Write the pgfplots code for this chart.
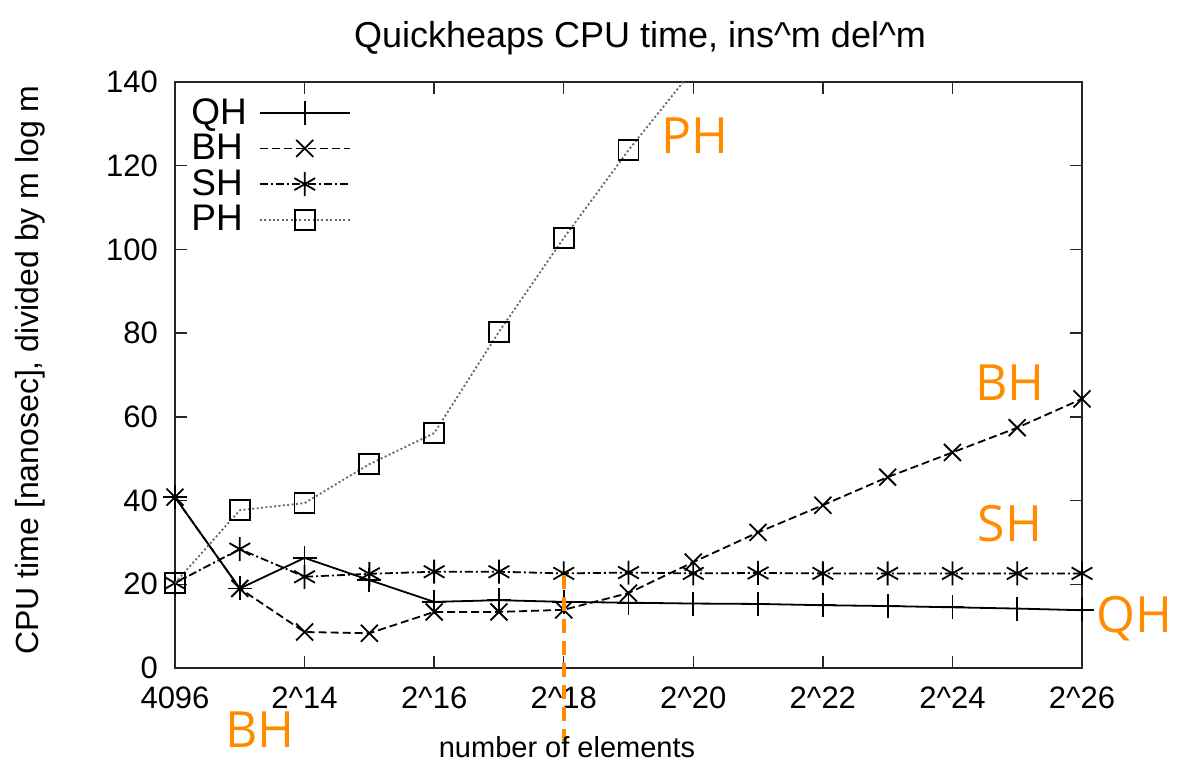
\documentclass[border=0pt]{standalone}
\usepackage{fontspec}
\setmainfont{Liberation Sans}
\newfontfamily\annfont{Open Sans}
\usepackage{pgfplots}
\usepackage{pgfplotstable}
\pgfplotsset{compat=1.18}
\usetikzlibrary{calc}
\definecolor{annot}{RGB}{255,140,0}

% x = log2(number of elements), y = CPU time / (m log m) in ns
\pgfplotstableread{
x y
12 40.8
13 19.0
14 26.3
15 21.0
16 15.8
17 16.2
18 15.8
19 15.6
20 15.4
21 15.3
22 15.0
23 14.8
24 14.5
25 14.2
26 13.8
}\qhdata
\pgfplotstableread{
x y
12 40.8
13 19.0
14 8.6
15 8.3
16 13.4
17 13.4
18 13.9
19 17.9
20 25.3
21 32.4
22 38.9
23 45.6
24 51.5
25 57.4
26 64.3
}\bhdata
\pgfplotstableread{
x y
12 20.3
13 28.4
14 21.8
15 22.5
16 23.0
17 23.0
18 22.6
19 22.8
20 22.6
21 22.7
22 22.6
23 22.6
24 22.6
25 22.6
26 22.6
}\shdata
\pgfplotstableread{
x y
12 20.3
13 37.7
14 39.4
15 48.7
16 56.1
17 80.3
18 102.7
19 123.7
20 143.0
}\phdata

\begin{document}
\begin{tikzpicture}
\begin{axis}[
  scale only axis,
  width=453.5pt, height=293pt,
  xmin=12, xmax=26, ymin=0, ymax=140,
  xtick={12,14,...,26},
  xticklabels={4096,2\textasciicircum14,2\textasciicircum16,2\textasciicircum18,2\textasciicircum20,2\textasciicircum22,2\textasciicircum24,2\textasciicircum26},
  ytick={0,20,...,140},
  /pgf/number format/assume math mode=true,
  tick label style={font=\fontsize{15.5}{17}\selectfont},
  xticklabel style={yshift=-6pt},
  yticklabel style={xshift=-5pt},
  major tick length=6pt,
  tick style={line width=0.7pt, color=black!85},
  axis line style={line width=0.8pt, color=black!85},
  clip mode=individual,
  legend plot pos=right,
  legend cell align=left,
  legend style={at={(rel axis cs:0,1)}, anchor=north west, draw=none, fill=none,
    font=\fontsize{18.5}{18.5}\selectfont, row sep=-0.5pt, xshift=-1pt, yshift=-4pt,
    nodes={inner xsep=6pt}},
  legend image code/.code={\draw[mark repeat=2,mark phase=2] plot coordinates {(0cm,0cm) (0.79cm,0cm) (1.58cm,0cm)};},
  every axis plot/.append style={line width=0.9pt},
]
\addplot[black, mark=+, mark size=6pt, mark options={solid, line width=0.9pt}] table {\qhdata};
\addlegendentry{QH}
\addplot[black, dash pattern=on 4pt off 2pt, mark=x, mark size=6pt, mark options={solid, line width=0.9pt}] table {\bhdata};
\addlegendentry{BH}
\addplot[black, dash pattern=on 4pt off 1.5pt on 1pt off 1.5pt, mark=asterisk, mark size=6pt, mark options={solid, line width=0.9pt}] table {\shdata};
\addlegendentry{SH}
\addplot[black!60, dash pattern=on 1pt off 1.2pt, mark=square, mark size=5pt, mark options={solid, black, line width=0.9pt}] table {\phdata};
\addlegendentry{PH}

\draw[annot, line width=2pt, dash pattern=on 7pt off 4pt] (axis cs:18,22.2) -- (axis cs:18,-17.5);
\node[annot, font=\annfont\fontsize{25}{25}\selectfont] at (axis cs:20.02,127.3) {PH};
\node[annot, font=\annfont\fontsize{25}{25}\selectfont] at (axis cs:24.89,68.1) {BH};
\node[annot, font=\annfont\fontsize{25}{25}\selectfont] at (axis cs:24.89,34.6) {SH};
\node[annot, font=\annfont\fontsize{25}{25}\selectfont] at (axis cs:26.81,11.9) {QH};
\node[annot, font=\annfont\fontsize{25}{25}\selectfont] at (axis cs:13.31,-14.8) {BH};
\end{axis}
\coordinate (O) at (current axis.south west);
\node[font=\fontsize{18}{20}\selectfont] at ($(O)+(232.5pt,315pt)$) {Quickheaps CPU time, ins\textasciicircum m del\textasciicircum m};
\node[font=\fontsize{14.5}{16}\selectfont] at ($(O)+(196pt,-39.5pt)$) {number of elements};
\node[rotate=90, font=\fontsize{16}{18}\selectfont] at ($(O)+(-72.5pt,149pt)$) {CPU time [nanosec], divided by m log m};
\pgfresetboundingbox
\path[use as bounding box] ($(O)+(-87.5pt,-51.5pt)$) rectangle ($(O)+(501.5pt,334pt)$);
\end{tikzpicture}
\end{document}
